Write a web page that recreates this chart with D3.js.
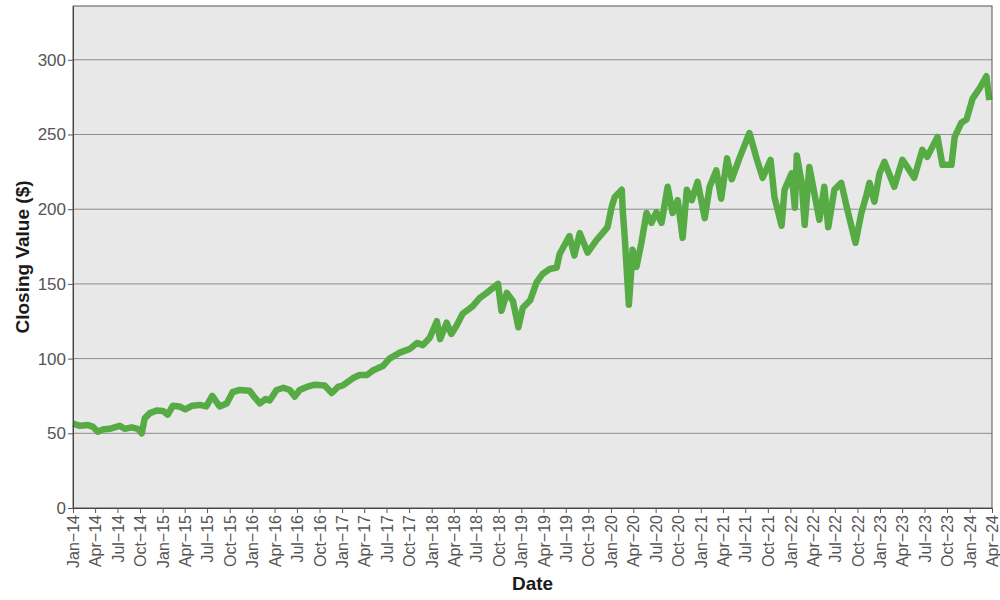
<!DOCTYPE html>
<html>
<head>
<meta charset="utf-8">
<script src="https://cdn.jsdelivr.net/npm/d3@7"></script>
<style>
  html, body { margin: 0; padding: 0; background: #ffffff; }
  svg { display: block; font-family: "Liberation Sans", Arial, sans-serif; }
</style>
</head>
<body>
<svg id="chart" width="1000" height="600"></svg>
<script>
// ---- Data ----
const dates = [
  "2014-01-02","2014-01-29","2014-03-03","2014-03-22","2014-04-12","2014-05-01","2014-05-30","2014-07-10",
  "2014-07-30","2014-08-28","2014-09-22","2014-10-08","2014-10-20","2014-11-10","2014-12-08","2015-01-02",
  "2015-01-22","2015-02-12","2015-03-10","2015-04-03","2015-05-02","2015-06-01","2015-06-28","2015-07-22",
  "2015-08-21","2015-09-19","2015-10-13","2015-11-11","2015-12-21","2016-01-11","2016-02-01","2016-02-25",
  "2016-03-12","2016-04-09","2016-05-07","2016-06-02","2016-06-22","2016-07-12","2016-08-10","2016-09-12",
  "2016-10-22","2016-11-20","2016-12-15","2017-01-04","2017-02-15","2017-03-13","2017-04-12","2017-05-06",
  "2017-06-16","2017-07-13","2017-08-24","2017-10-04","2017-11-02","2017-11-26","2017-12-24","2018-01-22",
  "2018-02-04","2018-03-03","2018-03-22","2018-04-12","2018-05-07","2018-06-16","2018-07-15","2018-08-13",
  "2018-09-28","2018-10-12","2018-11-03","2018-11-28","2018-12-20","2019-01-07","2019-02-06","2019-03-04",
  "2019-03-28","2019-04-27","2019-05-25","2019-06-06","2019-07-16","2019-08-05","2019-08-27","2019-09-28",
  "2019-10-06","2019-11-04","2019-11-28","2019-12-18","2020-01-04","2020-01-16","2020-02-14","2020-02-18",
  "2020-02-26","2020-03-14","2020-03-24","2020-03-29","2020-04-14","2020-05-04","2020-05-25","2020-06-14",
  "2020-07-04","2020-07-25","2020-08-19","2020-09-08","2020-09-29","2020-10-19","2020-11-05","2020-11-25",
  "2020-12-19","2021-01-17","2021-02-06","2021-03-05","2021-03-25","2021-04-18","2021-05-07","2021-06-07",
  "2021-07-18","2021-08-16","2021-09-10","2021-10-12","2021-10-28","2021-11-26","2021-12-08","2022-01-06",
  "2022-01-19","2022-01-27","2022-02-16","2022-02-28","2022-03-19","2022-04-29","2022-05-19","2022-06-04",
  "2022-06-29","2022-07-27","2022-08-21","2022-09-23","2022-10-17","2022-11-07","2022-11-19","2022-12-09",
  "2022-12-30","2023-01-19","2023-02-28","2023-04-02","2023-04-22","2023-05-20","2023-06-22","2023-07-12",
  "2023-08-23","2023-09-12","2023-10-19","2023-11-01","2023-11-28","2023-12-19","2024-01-13","2024-02-11",
  "2024-03-09","2024-03-21"
];
const closingValues = [
  56.5, 55, 55.5, 54.5, 51, 52.5, 53, 55,
  53, 54, 53, 50, 60, 63.5, 65.3, 65,
  62.5, 68.5, 68, 66, 68.5, 69, 68, 75,
  68, 70, 77.5, 79, 78.5, 74, 70, 73,
  72, 79, 80.5, 79, 74.5, 79, 81, 82.5,
  82, 77, 81, 82, 87, 89, 89, 92,
  95, 100, 104, 106.5, 110.5, 109, 114, 125,
  113, 124, 116.5, 122, 130, 135, 140.5, 144,
  150, 132, 144, 138.5, 121, 134, 139, 151,
  156.5, 160, 161, 170, 182, 169, 184, 171,
  172.8, 179.5, 184, 188, 201.5, 208, 213, 199.6,
  181.5, 136, 159.4, 172.8, 161.4, 177.5, 197.5, 190.8,
  198, 190.8, 215, 197.5, 206, 180.8, 213, 206,
  218.3, 194, 215, 226, 207, 234, 220, 234,
  251, 234, 221, 233, 208, 189, 213, 224,
  201, 236, 217.6, 189.5, 228.3, 192.9, 215, 188,
  213, 217.6, 199.6, 177.5, 197.5, 209.6, 217.6, 205,
  224, 231.7, 215, 233, 228.3, 221, 239.7, 235,
  248.4, 229.7, 229.7, 248.4, 257.8, 260, 274, 281,
  289, 273
];
const yTicks = [0, 50, 100, 150, 200, 250, 300];
const yDomain = [0, 336];
const xDomain = ["2014-01-01", "2024-04-01"];
const monthNames = ["Jan","Feb","Mar","Apr","May","Jun","Jul","Aug","Sep","Oct","Nov","Dec"];

// ---- Layout ----
const margin = { left: 73, right: 8, top: 6, bottom: 92 };
const W = 1000, H = 600;
const innerW = W - margin.left - margin.right;
const innerH = H - margin.top - margin.bottom;
const parse = d3.utcParse("%Y-%m-%d");

const data = dates.map((d, i) => ({ date: parse(d), value: closingValues[i] }));

const svg = d3.select("#chart");
const g = svg.append("g").attr("transform", `translate(${margin.left},${margin.top})`);

const x = d3.scaleUtc().domain(xDomain.map(parse)).range([0, innerW]);
const y = d3.scaleLinear().domain(yDomain).range([innerH, 0]);

// Panel background
g.append("rect")
  .attr("width", innerW).attr("height", innerH)
  .attr("fill", "#e8e8e8");

// Horizontal gridlines
g.append("g").selectAll("line")
  .data(yTicks.filter(t => t > 0))
  .join("line")
  .attr("x1", 0).attr("x2", innerW)
  .attr("y1", d => y(d)).attr("y2", d => y(d))
  .attr("stroke", "#8c8c8c").attr("stroke-width", 1);

// Line
const line = d3.line().x(d => x(d.date)).y(d => y(d.value));
g.append("path")
  .datum(data)
  .attr("fill", "none")
  .attr("stroke", "#56ab44")
  .attr("stroke-width", 6.5)
  .attr("stroke-linejoin", "round")
  .attr("d", line);

// Frame
g.append("rect")
  .attr("width", innerW).attr("height", innerH)
  .attr("fill", "none")
  .attr("stroke", "#555555").attr("stroke-width", 1);

// Y axis
const yAxis = g.append("g")
  .call(d3.axisLeft(y).tickValues(yTicks).tickSize(5).tickSizeOuter(0).tickPadding(2).tickFormat(d3.format("d")));
yAxis.select(".domain").attr("stroke", "#444");
yAxis.selectAll(".tick line").attr("stroke", "#555");
yAxis.selectAll(".tick text")
  .attr("fill", "#555")
  .style("font-size", "17px")
  .style("font-family", "'Liberation Sans', Arial, sans-serif");

// X axis (quarterly ticks)
const xTicks = d3.utcMonth.every(3).range(parse(xDomain[0]), d3.utcDay.offset(parse(xDomain[1]), 1));
const xAxis = g.append("g")
  .attr("transform", `translate(0,${innerH})`)
  .call(d3.axisBottom(x).tickValues(xTicks).tickSize(5).tickSizeOuter(0)
    .tickFormat(d => monthNames[d.getUTCMonth()] + "\u2212" + String(d.getUTCFullYear() % 100).padStart(2, "0")));
xAxis.select(".domain").attr("stroke", "#444");
xAxis.selectAll(".tick line").attr("stroke", "#555");
xAxis.selectAll(".tick text")
  .attr("fill", "#555")
  .style("font-size", "16px")
  .style("font-family", "'Liberation Sans', Arial, sans-serif")
  .attr("text-anchor", "end")
  .attr("transform", "rotate(-90)")
  .attr("x", -7).attr("y", 0).attr("dy", "0.35em");

// Axis titles
svg.append("text")
  .attr("x", margin.left + innerW / 2).attr("y", 590)
  .attr("text-anchor", "middle")
  .attr("fill", "#1a1a1a")
  .style("font-size", "19px").style("font-weight", "bold")
  .text("Date");

svg.append("text")
  .attr("transform", `translate(29,${margin.top + innerH / 2}) rotate(-90)`)
  .attr("text-anchor", "middle")
  .attr("fill", "#1a1a1a")
  .style("font-size", "19px").style("font-weight", "bold")
  .text("Closing Value ($)");
</script>
</body>
</html>
